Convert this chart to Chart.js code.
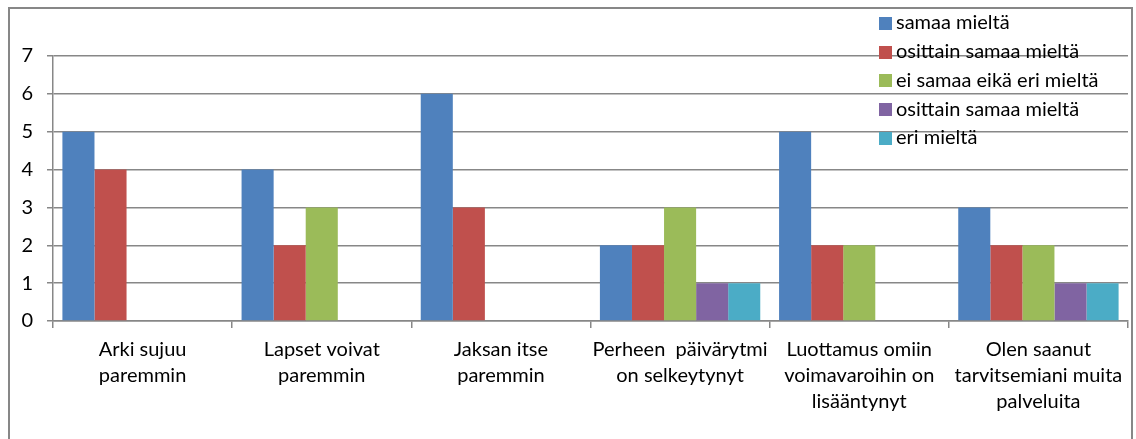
<!DOCTYPE html>
<html>
<head>
<meta charset="utf-8">
<script src="https://cdn.jsdelivr.net/npm/chart.js@4.4.1/dist/chart.umd.min.js"></script>
<style>
  html, body { margin: 0; padding: 0; background: #fff; }
  canvas { display: block; }
</style>
</head>
<body>
<canvas id="c" width="1136" height="439"></canvas>
<script>
const categories = [
  ["Arki sujuu", "paremmin"],
  ["Lapset voivat", "paremmin"],
  ["Jaksan itse", "paremmin"],
  ["Perheen  päivärytmi", "on selkeytynyt"],
  ["Luottamus omiin", "voimavaroihin on", "lisääntynyt"],
  ["Olen saanut", "tarvitsemiani muita", "palveluita"]
];
const seriesNames = [
  "samaa mieltä",
  "osittain samaa mieltä",
  "ei samaa eikä eri mieltä",
  "osittain samaa mieltä",
  "eri mieltä"
];
const samaaMielta = [5, 4, 6, 2, 5, 3];
const osittainSamaa = [4, 2, 3, 2, 2, 2];
const eiSamaaEikaEri = [0, 3, 0, 3, 2, 2];
const osittainSamaa2 = [0, 0, 0, 1, 0, 1];
const eriMielta = [0, 0, 0, 1, 0, 1];
const yTicks = [0, 1, 2, 3, 4, 5, 6, 7];

const seriesValues = [samaaMielta, osittainSamaa, eiSamaaEikaEri, osittainSamaa2, eriMielta];
const colors = ["#4F81BD", "#C0504D", "#9BBB59", "#8064A2", "#4BACC6"];
const FONT = "Lato, 'Liberation Sans', sans-serif";
const GRID = "#878787";

const frame = {
  id: 'frame',
  beforeDraw(chart) {
    const ctx = chart.ctx;
    ctx.save();
    ctx.fillStyle = '#fff';
    ctx.fillRect(0, 0, chart.width, chart.height);
    ctx.fillStyle = GRID;
    ctx.fillRect(8, 7, 1125, 2);
    ctx.fillRect(8, 7, 2, 432);
    ctx.fillRect(1131, 7, 2, 432);
    ctx.restore();
  }
};

const legendPlugin = {
  id: 'customLegend',
  afterDraw(chart) {
    const ctx = chart.ctx;
    ctx.save();
    ctx.font = "20px " + FONT;
    ctx.textBaseline = 'middle';
    ctx.textAlign = 'left';
    chart.data.datasets.forEach((ds, i) => {
      const cy = 23 + 28.7 * i;
      ctx.fillStyle = ds.backgroundColor;
      ctx.fillRect(879, Math.round(cy - 6), 13, 13);
      ctx.fillStyle = '#000';
      ctx.fillText(ds.label, 896, cy);
    });
    ctx.restore();
  }
};

new Chart(document.getElementById('c'), {
  type: 'bar',
  data: {
    labels: categories,
    datasets: seriesValues.map((vals, i) => ({
      label: seriesNames[i],
      data: vals,
      backgroundColor: colors[i],
      borderWidth: 0,
      categoryPercentage: 0.895,
      barPercentage: 1.0
    }))
  },
  options: {
    responsive: false,
    animation: false,
    devicePixelRatio: 1,
    layout: { padding: { left: 0, top: 56, right: 8, bottom: 0 } },
    plugins: {
      legend: { display: false },
      tooltip: { enabled: false }
    },
    scales: {
      x: {
        afterFit: s => { s.height = 118; },
        grid: {
          offset: true,
          drawOnChartArea: false,
          drawTicks: true,
          tickLength: 7,
          color: GRID,
          lineWidth: 1.5
        },
        border: { display: true, color: GRID, width: 1.5 },
        ticks: {
          color: '#000',
          padding: 9,
          maxRotation: 0,
          autoSkip: false,
          font: { family: FONT, size: 20, lineHeight: 1.3 }
        }
      },
      y: {
        min: 0,
        max: 7,
        afterFit: s => { s.width = 53; },
        afterBuildTicks: s => { s.ticks = yTicks.map(v => ({ value: v })); },
        grid: {
          color: GRID,
          lineWidth: 1.5,
          drawTicks: true,
          tickLength: 6
        },
        border: { display: true, color: GRID, width: 1.5 },
        ticks: {
          color: '#000',
          padding: 14,
          font: { family: FONT, size: 20 }
        }
      }
    }
  },
  plugins: [frame, legendPlugin]
});
</script>
</body>
</html>
